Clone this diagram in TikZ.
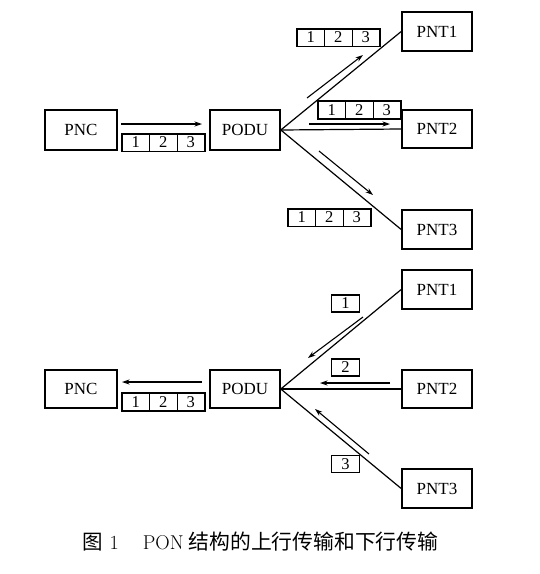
\documentclass[tikz,border=0pt]{standalone}
\usepackage{fontspec}
\newfontfamily\tnr{Liberation Serif}
\newfontfamily\cjk{Noto Sans CJK SC}
\usetikzlibrary{arrows.meta}
\begin{document}
\begin{tikzpicture}[x=1pt,y=-1pt,
  box/.style={draw, line width=1.6pt, minimum width=70pt, minimum height=38pt, inner sep=0pt, font=\tnr\fontsize{17}{17}\selectfont},
  cell/.style={draw, line width=0.9pt, minimum width=27.5pt, minimum height=17pt, inner sep=0pt, font=\tnr\fontsize{16.5}{16.5}\selectfont},
  pkt/.style={line width=1.5pt},
  link/.style={line width=1.2pt},
  flow/.style={line width=1.1pt, -{Stealth[length=7.5pt,width=5pt]}}]
\useasboundingbox (0,0) rectangle (540,574);
% ---------- downstream (top) ----------
\node[box, minimum width=72pt, minimum height=40pt] (pncA) at (81,130) {PNC};
\node[box, minimum height=40pt] (poduA) at (245,130) {PODU};
\node[box, minimum height=39pt] (ntA1) at (437,31.5) {PNT1};
\node[box] (ntA2) at (437,129) {PNT2};
\node[box, minimum height=39pt] (ntA3) at (437,229.5) {PNT3};
\draw[link] (poduA.east) -- (ntA1.west);
\draw[link] (poduA.east) -- (ntA2.west);
\draw[link] (poduA.east) -- (ntA3.west);
% packets
\foreach \nm/\x/\y in {pa/122/142.5, pb/297/37.5, pc/318/110, pd/288/217.5, pe/122/402}{
  \node[cell] (\nm1) at (\x+13.75,\y) {1};
  \node[cell] (\nm2) at (\x+41.25,\y) {2};
  \node[cell] (\nm3) at (\x+68.75,\y) {3};
  \draw[pkt] (\nm1.north west) rectangle (\nm3.south east);
}
% arrows top
\coordinate (a0s) at (121,124); \coordinate (a0e) at (202,124);
\coordinate (a1s) at (307,98);  \coordinate (a1e) at (363,55);
\coordinate (a2s) at (309,124); \coordinate (a2e) at (390,124);
\coordinate (a3s) at (319,151); \coordinate (a3e) at (373,195);
\draw[flow] (a0s) -- (a0e);
\draw[flow] (a1s) -- (a1e);
\draw[flow] (a2s) -- (a2e);
\draw[flow] (a3s) -- (a3e);
% ---------- upstream (bottom) ----------
\node[box, minimum width=72pt] (pncB) at (81,389) {PNC};
\node[box] (poduB) at (245,389) {PODU};
\node[box, minimum height=39pt] (ntB1) at (437,289.5) {PNT1};
\node[box] (ntB2) at (437,389) {PNT2};
\node[box, minimum height=39pt] (ntB3) at (437,488.5) {PNT3};
\draw[link] (poduB.east) -- (ntB1.west);
\draw[link] (poduB.east) -- (ntB2.west);
\draw[link] (poduB.east) -- (ntB3.west);
\node[cell, line width=1.3pt] (sb1) at (345.5,303.5) {1};
\node[cell, line width=1.3pt] (sb2) at (345.5,367.5) {2};
\node[cell, line width=1.3pt] (sb3) at (345.5,464) {3};
\coordinate (b0s) at (202,382); \coordinate (b0e) at (122,382);
\coordinate (b1s) at (363,317); \coordinate (b1e) at (308,358);
\coordinate (b2s) at (390,383); \coordinate (b2e) at (320,383);
\coordinate (b3s) at (369,454); \coordinate (b3e) at (315,409);
\draw[flow] (b0s) -- (b0e);
\draw[flow] (b1s) -- (b1e);
\draw[flow] (b2s) -- (b2e);
\draw[flow] (b3s) -- (b3e);
% caption
\node[anchor=base west, inner sep=0pt, font=\fontsize{20}{20}\selectfont] (cap) at (82,549)
  {{\cjk\fontsize{20.5}{20.5}\selectfont 图}\hspace{7pt}1\hspace{24pt}PON\hspace{5pt}{\cjk\fontsize{20.8}{20.8}\selectfont 结构的上行传输和下行传输}};
\end{tikzpicture}
\end{document}
